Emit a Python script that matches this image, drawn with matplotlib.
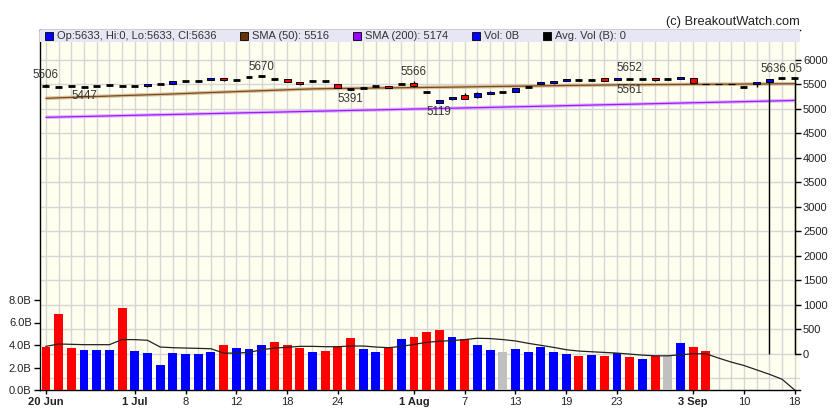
import matplotlib
matplotlib.use("Agg")
import matplotlib.pyplot as plt
from matplotlib.patches import Rectangle

plt.rcParams['font.family'] = ['Liberation Sans', 'DejaVu Sans']

# ---------------- data ----------------
tick_pos = [0, 7, 11, 15, 19, 23, 29, 33, 37, 41, 45, 51, 55, 59]
tick_labels = ['20 Jun', '1 Jul', '8', '12', '18', '24', '1 Aug', '7', '13', '19', '23', '3 Sep', '10', '18']
bold_labels = ['20 Jun', '1 Jul', '1 Aug', '3 Sep']

opens = [5470, 5455, 5460, 5458, 5465, 5480, 5478, 5472, 5462, 5510,
         5512, 5565, 5578, 5588, 5624, 5598, 5645, 5665, 5605, 5610,
         5545, 5562, 5562, 5500, 5405, 5435, 5462, 5460, 5516, 5530,
         5347, 5132, 5200, 5295, 5240, 5300, 5340, 5356, 5455, 5505,
         5525, 5567, 5598, 5600, 5630, 5588, 5612, 5612, 5625, 5605,
         5615, 5632, 5516, 5516, 5516, 5455, 5505, 5560, 5626, 5633]
closes = [5470, 5455, 5460, 5458, 5465, 5480, 5478, 5472, 5500, 5510,
          5565, 5565, 5578, 5624, 5588, 5598, 5645, 5665, 5605, 5553,
          5505, 5562, 5562, 5425, 5405, 5435, 5462, 5425, 5516, 5460,
          5347, 5180, 5238, 5205, 5330, 5352, 5340, 5427, 5455, 5550,
          5563, 5605, 5598, 5600, 5573, 5630, 5612, 5612, 5590, 5605,
          5650, 5526, 5516, 5516, 5516, 5455, 5550, 5610, 5626, 5636]
highs = [5506, 5462, 5465, 5468, 5472, 5486, 5492, 5478, 5506, 5516,
         5570, 5575, 5584, 5630, 5630, 5610, 5660, 5670, 5612, 5614,
         5548, 5568, 5568, 5504, 5412, 5442, 5470, 5463, 5522, 5566,
         5356, 5190, 5250, 5320, 5345, 5372, 5348, 5432, 5470, 5555,
         5567, 5608, 5603, 5612, 5636, 5634, 5620, 5618, 5628, 5612,
         5655, 5635, 5516, 5516, 5516, 5462, 5555, 5615, 5630, 5636]
lows = [5460, 5450, 5452, 5447, 5460, 5474, 5466, 5466, 5456, 5504,
        5508, 5556, 5572, 5584, 5580, 5586, 5630, 5656, 5598, 5545,
        5490, 5556, 5556, 5420, 5391, 5428, 5452, 5420, 5508, 5440,
        5330, 5119, 5192, 5198, 5230, 5296, 5332, 5350, 5440, 5500,
        5520, 5563, 5593, 5590, 5565, 5584, 5604, 5606, 5575, 5600,
        5610, 5520, 5516, 5516, 5516, 5450, 5440, 0, 5620, 0]
candle_kind = ['k', 'k', 'k', 'k', 'k', 'k', 'k', 'k', 'b', 'k',
               'b', 'k', 'k', 'b', 'r', 'k', 'k', 'k', 'k', 'r',
               'r', 'k', 'k', 'r', 'k', 'k', 'k', 'r', 'k', 'r',
               'k', 'b', 'b', 'r', 'b', 'b', 'k', 'b', 'k', 'b',
               'b', 'b', 'k', 'k', 'r', 'b', 'k', 'k', 'r', 'k',
               'b', 'r', 't', 't', 't', 'k', 'b', 'b', 'k', 'k']

sma50 = [5218, 5228, 5237, 5246, 5255, 5264, 5273, 5281, 5289, 5297,
         5306, 5316, 5326, 5336, 5345, 5355, 5364, 5373, 5382, 5392,
         5402, 5410, 5415, 5419, 5422, 5425, 5428, 5431, 5434, 5437,
         5440, 5443, 5446, 5450, 5454, 5458, 5461, 5465, 5469, 5472,
         5476, 5479, 5482, 5486, 5489, 5492, 5494, 5496, 5498, 5499,
         5501, 5503, 5504, 5506, 5507, 5509, 5510, 5512, 5514, 5516]
sma200 = [4830, 4836, 4842, 4847, 4853, 4859, 4865, 4871, 4877, 4883,
          4888, 4894, 4900, 4906, 4912, 4918, 4924, 4929, 4935, 4941,
          4947, 4953, 4958, 4964, 4970, 4976, 4981, 4987, 4993, 4999,
          5004, 5010, 5016, 5022, 5027, 5033, 5039, 5045, 5050, 5056,
          5062, 5068, 5074, 5080, 5086, 5092, 5097, 5103, 5109, 5115,
          5121, 5127, 5132, 5138, 5144, 5150, 5156, 5162, 5168, 5174]

volume = [3.85, 6.80, 3.76, 3.58, 3.58, 3.58, 7.25, 3.49, 3.31, 2.24,
          3.31, 3.22, 3.22, 3.40, 4.03, 3.76, 3.67, 4.03, 4.30, 4.03,
          3.76, 3.40, 3.49, 3.94, 4.66, 3.67, 3.40, 3.76, 4.57, 4.75,
          5.19, 5.37, 4.75, 4.57, 4.03, 3.58, 3.40, 3.67, 3.40, 3.79,
          3.40, 3.22, 3.04, 3.13, 3.04, 3.31, 2.96, 2.78, 3.04, 3.04,
          4.21, 3.85, 3.49]
vol_kind = ['r', 'r', 'r', 'b', 'b', 'b', 'r', 'b', 'b', 'b',
            'b', 'b', 'b', 'b', 'r', 'b', 'b', 'b', 'r', 'r',
            'r', 'b', 'r', 'r', 'r', 'b', 'b', 'r', 'b', 'r',
            'r', 'r', 'b', 'r', 'b', 'b', 'g', 'b', 'b', 'b',
            'b', 'b', 'r', 'b', 'r', 'b', 'r', 'b', 'r', 'g',
            'b', 'r', 'r']
avg_vol = [3.88, 4.09, 4.06, 4.03, 4.03, 4.03, 4.48, 4.48, 4.42, 3.82,
           3.76, 3.73, 3.70, 3.67, 3.28, 3.28, 3.34, 3.58, 3.73, 3.79,
           3.88, 3.88, 3.85, 3.85, 3.91, 3.91, 3.82, 3.76, 3.88, 4.05,
           4.24, 4.33, 4.39, 4.48, 4.60, 4.57, 4.48, 4.36, 4.15, 3.97,
           3.79, 3.58, 3.46, 3.40, 3.34, 3.28, 3.19, 3.10, 3.04, 3.04,
           3.13, 3.22, 3.22, 2.84, 2.48, 2.18, 1.79, 1.40, 0.96, 0.0]

ann_idx = [0, 3, 17, 24, 29, 31, 46, 46, 58]
ann_val = [5506, 5447, 5670, 5391, 5566, 5119, 5652, 5561, 5636.05]
ann_text = ['5506', '5447', '5670', '5391', '5566', '5119', '5652', '5561', '5636.05']
ann_side = ['up', 'down', 'up', 'down', 'up', 'down', 'up', 'down', 'up']

legend_items = ['Op:5633, Hi:0, Lo:5633, Cl:5636', 'SMA (50): 5516', 'SMA (200): 5174',
                'Vol: 0B', 'Avg. Vol (B): 0']
legend_colors = ['#0000ff', '#663300', '#9900ff', '#0000ff', '#000000']
legend_x_px = [45, 240, 353, 472, 543]

price_ticks = [0, 500, 1000, 1500, 2000, 2500, 3000, 3500, 4000, 4500, 5000, 5500, 6000]
price_grid = [-500] + price_ticks + [6500]
vol_ticks = [0, 2, 4, 6, 8]
vol_tick_labels = ['0.0B', '2.0B', '4.0B', '6.0B', '8.0B']

# ---------------- figure ----------------
W, H = 840, 416
fig = plt.figure(figsize=(W / 100, H / 100), dpi=100)
fig.patch.set_facecolor('white')
ax = fig.add_axes([40 / W, 26 / H, 760 / W, 360 / H])
ax.set_facecolor('#fffff0')
axv = ax.twinx()
ax.yaxis.tick_right()
axv.yaxis.tick_left()
axv.yaxis.set_label_position('left')

n = len(sma50)
ax.set_xlim(-0.47, 59.42)
ax.set_ylim(-735, 6612)
axv.set_ylim(0, 32)

grid_c = '#d6d6d6'
for i in range(n):
    ax.axvline(i, color=grid_c, lw=1, zorder=0.5)
for g in price_grid:
    ax.axhline(g, color=grid_c, lw=1, zorder=0.5)

# SMA lines
xs = list(range(n))
ax.plot(xs, sma50, color='#d2b48c', lw=2.6, alpha=0.8, zorder=2, solid_capstyle='butt')
ax.plot(xs, sma50, color='#7a4a1a', lw=0.9, zorder=2.1)
ax.plot(xs, sma200, color='#dca8ff', lw=2.6, alpha=0.8, zorder=2, solid_capstyle='butt')
ax.plot(xs, sma200, color='#9a1aff', lw=0.9, zorder=2.1)

# candles
cw = 0.55
for i in range(n):
    o, c, hi, lo, k = opens[i], closes[i], highs[i], lows[i], candle_kind[i]
    ax.vlines(i, lo, hi, color='black', lw=1.0, zorder=3)
    if k == 'k':
        ax.hlines(c, i - cw / 2, i + cw / 2, color='black', lw=2.0, zorder=4)
    elif k == 't':
        ax.hlines(c, i - cw / 2, i + cw / 2, color='black', lw=0.9, zorder=4)
    else:
        col = '#0000ff' if k == 'b' else '#ff0000'
        ax.bar(i, abs(c - o), bottom=min(o, c), width=cw, color=col,
               edgecolor='black', lw=0.7, zorder=4)

for i, v, t, s in zip(ann_idx, ann_val, ann_text, ann_side):
    dy = 2 if s == 'up' else -2
    ax.annotate(t, (i, v), xytext=(0, dy), textcoords='offset points',
                ha='center', va='bottom' if s == 'up' else 'top',
                fontsize=8.3, color='#333333', zorder=6)

# volume
vcol = {'r': '#ff0000', 'b': '#0000ff', 'g': '#c0c0c0'}
axv.bar(range(len(volume)), volume, width=0.7,
        color=[vcol[k] for k in vol_kind], zorder=2)
axv.plot(xs, avg_vol, color='#222222', lw=0.9, zorder=3)

# legend band
axv.add_patch(Rectangle((0, 1 - 12 / 360), 1, 12 / 360, transform=axv.transAxes,
                        facecolor='#e6e6f5', edgecolor='none', zorder=5))
for txt, col, xp in zip(legend_items, legend_colors, legend_x_px):
    fig.add_artist(Rectangle((xp / W, 1 - 40 / H), 8 / W, 8 / H,
                             facecolor=col, edgecolor='black', lw=0.6,
                             transform=fig.transFigure))
    fig.text((xp + 12) / W, 1 - 36 / H, txt, fontsize=8, color='#333333',
             va='center', ha='left')

fig.text(800 / W, 1 - 21.5 / H, '(c) BreakoutWatch.com', fontsize=9.3,
         color='#222222', ha='right', va='center')

# axes / ticks
ax.set_yticks(price_ticks)
ax.set_yticklabels([str(p) for p in price_ticks])
ax.spines['right'].set_position(('data', 59))
ax.spines['right'].set_bounds(0, 5636)
ax.tick_params(axis='y', right=True, left=False, length=4, width=1,
               labelsize=8, labelcolor='#222222', pad=2)
axv.set_yticks(vol_ticks)
axv.set_yticklabels(vol_tick_labels)
axv.tick_params(axis='y', left=True, right=False, length=4, width=1,
                labelsize=8, labelcolor='#222222', pad=2)
ax.set_xticks(tick_pos)
ax.set_xticklabels(tick_labels)
ax.tick_params(axis='x', length=3, width=1, labelsize=8, labelcolor='#222222', pad=2)
for lab in ax.get_xticklabels():
    if lab.get_text() in bold_labels:
        lab.set_fontweight('bold')

for s in ['left', 'top', 'bottom', 'right']:
    axv.spines[s].set_visible(False)
for s in ['left', 'top', 'bottom']:
    ax.spines[s].set_color('black')
    ax.spines[s].set_linewidth(1)

fig.savefig('out.png', dpi=100)
